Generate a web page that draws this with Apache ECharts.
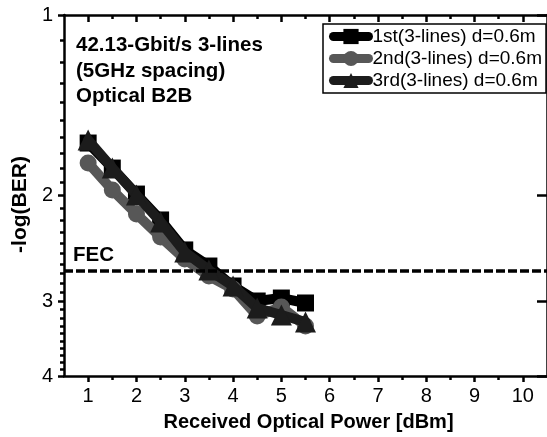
<!DOCTYPE html>
<html>
<head>
<meta charset="utf-8">
<script src="https://cdn.jsdelivr.net/npm/echarts@6/dist/echarts.min.js"></script>
<style>
html,body{margin:0;padding:0;background:#fff;}
#chart{width:547px;height:437px;}
</style>
</head>
<body>
<div id="chart"></div>
<script>
const powerDbm = [1, 1.5, 2, 2.5, 3, 3.5, 4, 4.5, 5, 5.5];
const seriesNames = ['1st(3-lines) d=0.6m', '2nd(3-lines) d=0.6m', '3rd(3-lines) d=0.6m'];
const first3Lines  = [1.635, 1.800, 1.989, 2.197, 2.465, 2.622, 2.831, 2.999, 2.965, 3.022];
const second3Lines = [1.765, 1.958, 2.147, 2.346, 2.553, 2.725, 2.864, 3.177, 3.069, 3.301];
const third3Lines  = [1.616, 1.800, 1.996, 2.214, 2.485, 2.663, 2.831, 3.081, 3.165, 3.251];
const fecLevel = 2.67;
const xMajorTicks = [1, 2, 3, 4, 5, 6, 7, 8, 9, 10];
const xMinorTicks = [1.5, 2.5, 3.5, 4.5, 5.5, 6.5, 7.5, 8.5, 9.5];
const yMajorTicks = [1, 2, 3, 4];
const yMinorTicks = [1.1,1.2,1.3,1.4,1.5,1.6,1.7,1.8,1.9,2.1,2.2,2.3,2.4,2.5,2.6,2.7,2.8,2.9,3.1,3.2,3.3,3.4,3.5,3.6,3.7,3.8,3.9];
const annotation = ['42.13-Gbit/s 3-lines', '(5GHz spacing)', 'Optical B2B'];

const FONT = 'Liberation Sans, Arial, Helvetica, sans-serif';
const chart = echarts.init(document.getElementById('chart'), null, {renderer: 'canvas'});

function pair(arr) { return powerDbm.map((x, i) => [x, arr[i]]); }

const xBase = {type: 'value', min: 0.5, max: 10.5, splitLine: {show: false}, gridIndex: 0};
const yBase = {type: 'log', logBase: 10, min: 1, max: 4, inverse: true, splitLine: {show: false}, gridIndex: 0};
const lineBlk = {show: true, lineStyle: {color: '#000', width: 2.5}};

const option = {
  animation: false,
  backgroundColor: '#fff',
  textStyle: {fontFamily: FONT},
  title: {
    text: annotation.join('\n'),
    left: 71, top: 28,
    textStyle: {fontFamily: FONT, fontSize: 20.5, fontWeight: 'bold', color: '#000', lineHeight: 25.5}
  },
  legend: {
    data: seriesNames,
    left: 323, top: 24,
    orient: 'vertical',
    itemWidth: 35, itemHeight: 19, itemGap: 3,
    padding: [3, 4, 3, 6],
    borderColor: '#000', borderWidth: 1.5,
    lineStyle: {width: 9, cap: 'round'},
    textStyle: {fontFamily: FONT, fontSize: 19, color: '#000', padding: [0, 0, 0, -1]}
  },
  grid: {left: 64, top: 15, right: -6, bottom: 61, containLabel: false},
  xAxis: [
    Object.assign({}, xBase, {
      position: 'bottom',
      name: 'Received Optical Power [dBm]', nameLocation: 'middle', nameGap: 36,
      nameTextStyle: {fontFamily: FONT, fontSize: 20, fontWeight: 'bold', color: '#000', padding: [0, 0, 0, 6]},
      axisLine: lineBlk,
      axisTick: {show: true, inside: false, length: 6, lineStyle: {color: '#000', width: 2.5}, customValues: xMajorTicks},
      axisLabel: {show: true, fontSize: 20, color: '#000', margin: 10, customValues: xMajorTicks, fontFamily: FONT}
    }),
    Object.assign({}, xBase, {
      position: 'bottom',
      axisLine: {show: false},
      axisTick: {show: true, inside: false, length: 4, lineStyle: {color: '#000', width: 2.5}, customValues: xMinorTicks},
      axisLabel: {show: false}
    }),
    Object.assign({}, xBase, {
      position: 'top',
      axisLine: lineBlk,
      axisTick: {show: true, inside: true, length: 7, lineStyle: {color: '#000', width: 2.5}, customValues: xMajorTicks},
      axisLabel: {show: false}
    }),
    Object.assign({}, xBase, {
      position: 'top',
      axisLine: {show: false},
      axisTick: {show: true, inside: true, length: 4, lineStyle: {color: '#000', width: 2.5}, customValues: xMinorTicks},
      axisLabel: {show: false}
    })
  ],
  yAxis: [
    Object.assign({}, yBase, {
      position: 'left',
      name: '-log(BER)', nameLocation: 'middle', nameGap: 30,
      nameTextStyle: {fontFamily: FONT, fontSize: 21, fontWeight: 'bold', color: '#000', padding: [0, 18, 0, 0]},
      axisLine: lineBlk,
      axisTick: {show: true, inside: false, length: 6, lineStyle: {color: '#000', width: 2.5}, customValues: yMajorTicks},
      axisLabel: {show: true, fontSize: 20, color: '#000', margin: 11, customValues: yMajorTicks, fontFamily: FONT}
    }),
    Object.assign({}, yBase, {
      position: 'left',
      axisLine: {show: false},
      axisTick: {show: true, inside: false, length: 4, lineStyle: {color: '#000', width: 2.5}, customValues: yMinorTicks},
      axisLabel: {show: false}
    }),
    Object.assign({}, yBase, {
      position: 'right',
      axisLine: lineBlk,
      axisTick: {show: true, inside: true, length: 10, lineStyle: {color: '#000', width: 2.5}, customValues: yMajorTicks},
      axisLabel: {show: false}
    })
  ],
  series: [
    {
      name: seriesNames[0], type: 'line', xAxisIndex: 0, yAxisIndex: 0,
      data: pair(first3Lines),
      symbol: 'rect', symbolSize: 17,
      itemStyle: {color: '#000'},
      lineStyle: {color: '#000', width: 10, cap: 'round', join: 'round'},
      z: 2,
      markLine: {
        silent: true, symbol: 'none',
        lineStyle: {color: '#000', width: 3.5, type: [9, 3]},
        label: {show: true, position: 'insideStartTop', formatter: 'FEC', distance: [9, 5],
                fontFamily: FONT, fontSize: 20.5, fontWeight: 'bold', color: '#000'},
        data: [{yAxis: fecLevel}]
      }
    },
    {
      name: seriesNames[1], type: 'line', xAxisIndex: 0, yAxisIndex: 0,
      data: pair(second3Lines),
      symbol: 'circle', symbolSize: 17,
      itemStyle: {color: '#575757'},
      lineStyle: {color: '#575757', width: 10, cap: 'round', join: 'round'},
      z: 3
    },
    {
      name: seriesNames[2], type: 'line', xAxisIndex: 0, yAxisIndex: 0,
      data: pair(third3Lines),
      symbol: 'triangle', symbolSize: 21,
      itemStyle: {color: '#1c1c1c'},
      lineStyle: {color: '#1c1c1c', width: 10, cap: 'round', join: 'round'},
      z: 4
    }
  ]
};
chart.setOption(option);
</script>
</body>
</html>
